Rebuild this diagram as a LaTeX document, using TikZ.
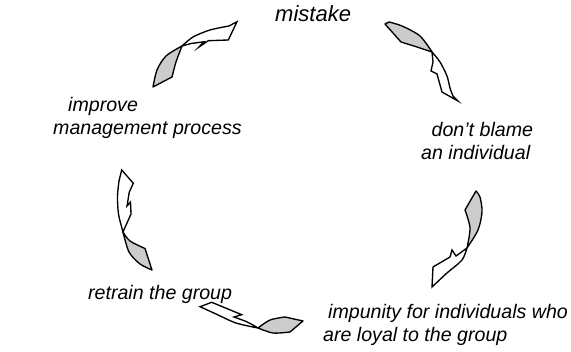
\documentclass[tikz,border=0pt]{standalone}
\usepackage{fontspec}
\setmainfont{Liberation Sans}

\tikzset{
    tailpart/.style={draw, fill=black!20, line width=1.35pt, line join=round},
    headpart/.style={draw, fill=white, line width=1.35pt, line join=miter},
    stage/.style={inner sep=0pt, anchor=base west, align=left,
        font=\fontsize{19.6}{23.3}\selectfont\itshape},
}

\begin{document}
\begin{tikzpicture}[x=1pt, y=-1pt]
    \useasboundingbox (0,0) rectangle (571,352);

    \node[stage, font=\fontsize{22}{26}\selectfont\itshape] (mistake) at (275,21.7) {mistake};
    \node[stage] (noblame) at (421,160) {\hspace*{10.5pt}don't blame\\an individual};
    \node[stage] (impunity) at (323,341.7) {\hspace*{5pt}impunity for individuals who\\are loyal to the group};
    \node[stage] (retrain) at (88,300) {retrain the group};
    \node[stage] (improve) at (53,135) {\hspace*{15pt}improve\\management process};

    % improve -> mistake
    \draw[tailpart] (153,87) -- plot[smooth] coordinates {(172,77) (176,62) (182,46)}
        -- plot[smooth] coordinates {(182,46) (166,56) (157,70) (153,87)} -- cycle;
    \draw[headpart] (182,46) -- plot[smooth] coordinates {(182,46) (193,37) (210,30) (229,26)}
        -- (237,21.7) -- (228.3,40) -- (208.3,40.7) -- (199,47) -- (204,41.8) -- (191,43.5) -- cycle;

    % mistake -> don't blame
    \draw[tailpart] (385,24) -- plot[smooth] coordinates {(401,42) (417,47) (432,52)}
        -- plot[smooth] coordinates {(432,52) (420,36) (402,26) (389,22)} -- cycle;
    \draw[headpart] (432,52) -- plot[smooth] coordinates {(432,52) (440,62) (447,76) (450,88) (453,96)}
        -- (458,101) -- (442,92) -- (437,74) -- (431,71) -- (433,62) -- cycle;

    % don't blame -> impunity
    \draw[tailpart] (476,191) -- plot[smooth] coordinates {(465,210) (470,228) (467,248)}
        -- plot[smooth] coordinates {(467,248) (478,230) (482,212) (480,197) (476,191)} -- cycle;
    \draw[headpart] (467,248) -- (456,256) -- (452,250) -- (450,257) -- (433,267) -- (432,287)
        -- plot[smooth] coordinates {(432,287) (447,273) (462,260) (467,248)} -- cycle;

    % impunity -> retrain
    \draw[tailpart] (258,328) -- plot[smooth] coordinates {(258,328) (270,320) (285,317)}
        -- (303,321) -- plot[smooth] coordinates {(290,332) (273,333) (258,328)} -- cycle;
    \draw[headpart] (258,328) -- plot[smooth] coordinates {(258,328) (252,324.5) (245,321)}
        -- (234,317) -- (241.7,314.7) -- (211.7,302.3) -- (200,306.7)
        -- plot[smooth] coordinates {(200,306.7) (216,314) (236,323) (258,328)} -- cycle;

    % retrain -> improve
    \draw[tailpart] (123,232) -- plot[smooth] coordinates {(123,232) (130,241) (145,248.5)}
        -- (152,270) -- plot[smooth] coordinates {(152,270) (140,264) (129,252) (123,232)} -- cycle;
    \draw[headpart] (123,232) -- plot[smooth] coordinates {(123,232) (118.5,214) (117.5,196) (119,181)}
        -- (121.7,170) -- (133.3,183.3) -- (129.3,192) -- (127,206) -- (130.5,202) -- (131,214) -- cycle;
\end{tikzpicture}
\end{document}
